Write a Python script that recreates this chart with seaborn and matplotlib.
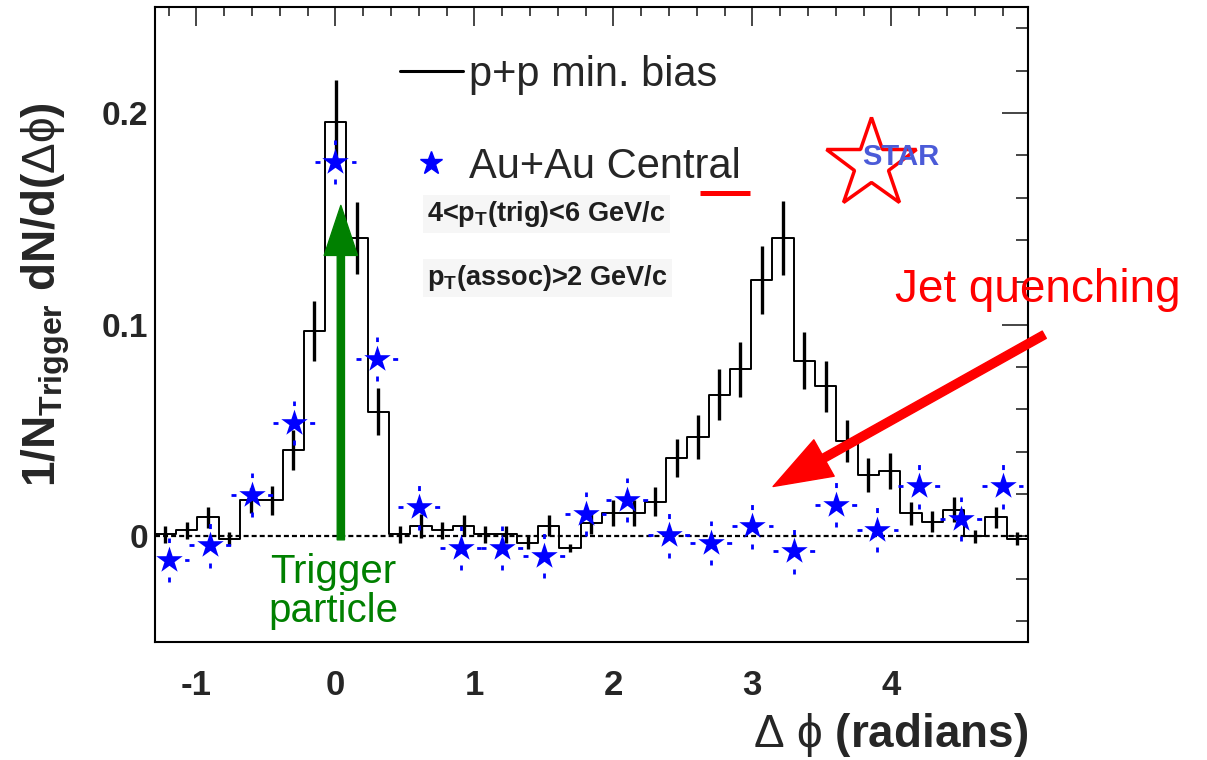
import numpy as np
import pandas as pd
import matplotlib
matplotlib.use("Agg")
import matplotlib.pyplot as plt
import seaborn as sns
from matplotlib.lines import Line2D
from matplotlib.patches import FancyArrowPatch
from matplotlib.ticker import MultipleLocator, FuncFormatter

# ---------------- data ----------------
# p+p minimum bias histogram (41 bins over 2*pi, from -1.3)
pp_dphi = [-1.223, -1.070, -0.917, -0.764, -0.610, -0.457, -0.304, -0.151,
           0.003, 0.156, 0.309, 0.462, 0.616, 0.769, 0.922, 1.075,
           1.229, 1.382, 1.535, 1.688, 1.842, 1.995, 2.148, 2.301,
           2.455, 2.608, 2.761, 2.914, 3.068, 3.221, 3.374, 3.527,
           3.681, 3.834, 3.987, 4.140, 4.294, 4.447, 4.600, 4.753, 4.907]
pp_y = [0.001, 0.003, 0.009, -0.001, 0.017, 0.017, 0.041, 0.097,
        0.196, 0.141, 0.059, 0.001, 0.005, 0.003, 0.005, 0.001,
        0.001, -0.003, 0.005, -0.0055, 0.0063, 0.011, 0.011, 0.0165,
        0.037, 0.047, 0.067, 0.079, 0.121, 0.141, 0.083, 0.071,
        0.045, 0.029, 0.031, 0.011, 0.007, 0.0126, 0.000, 0.009, -0.001]
pp_err = [0.004, 0.004, 0.005, 0.003, 0.006, 0.0067, 0.0095, 0.0142,
          0.0197, 0.017, 0.011, 0.004, 0.0055, 0.004, 0.005, 0.004,
          0.004, 0.003, 0.005, 0.002, 0.005, 0.006, 0.006, 0.007,
          0.009, 0.0103, 0.012, 0.013, 0.016, 0.0174, 0.0135, 0.012,
          0.010, 0.008, 0.0085, 0.0055, 0.005, 0.006, 0.003, 0.005, 0.003]

# Au+Au central
aa_dphi = [-1.2, -0.9, -0.6, -0.3, 0.0, 0.3, 0.6, 0.9, 1.2, 1.5, 1.8,
           2.1, 2.4, 2.7, 3.0, 3.3, 3.6, 3.9, 4.2, 4.5, 4.8]
aa_y = [-0.011, -0.0042, 0.0197, 0.0536, 0.1769, 0.0839, 0.0137, -0.0055,
        -0.0055, -0.0091, 0.0106, 0.0173, 0.0005, -0.0031, 0.0047, -0.0071,
        0.015, 0.0032, 0.0236, 0.0082, 0.0236]
aa_yerr = [0.0105] * 21
aa_xerr = [0.15] * 21

# ---------------- style ----------------
sns.set_style("white")
plt.rcParams["font.family"] = ["Liberation Sans", "DejaVu Sans"]
plt.rcParams["mathtext.fontset"] = "custom"
plt.rcParams["mathtext.rm"] = "Liberation Sans"
plt.rcParams["mathtext.bf"] = "Liberation Sans:bold"
plt.rcParams["mathtext.it"] = "Liberation Sans:italic"
plt.rcParams["mathtext.fallback"] = "stixsans"
plt.rcParams["lines.scale_dashes"] = False

fig = plt.figure(figsize=(12.07, 7.6), dpi=100)
ax = fig.add_axes([0.1282, 0.1549, 0.7235, 0.8355])

# p+p histogram
sns.histplot(x=pp_dphi, weights=pp_y, bins=41, binrange=(-1.3, 4.983),
             element="step", fill=False, color="black", linewidth=1.4, ax=ax)
ax.errorbar(pp_dphi, pp_y, yerr=pp_err, fmt="none", ecolor="black",
            elinewidth=2.4, capsize=0, zorder=3)

# zero line
ax.axhline(0, color="black", lw=1.6, ls=(0, (3.6, 2.2)), zorder=2)

# Au+Au stars with dashed error bars
ebv = ax.errorbar(aa_dphi, aa_y, yerr=aa_yerr, fmt="none", ecolor="blue",
                  elinewidth=2.0, capsize=0, zorder=4)
ebv.lines[2][0].set_linestyle((0, (3.6, 24.8)))
ebh = ax.errorbar(aa_dphi, aa_y, xerr=aa_xerr, fmt="none", ecolor="blue",
                  elinewidth=2.0, capsize=0, zorder=4)
ebh.lines[2][0].set_linestyle((0, (3.6, 22.8)))
sns.scatterplot(x=aa_dphi, y=aa_y, marker="*", s=400, color="blue",
                edgecolor="blue", linewidth=0, zorder=5, ax=ax, legend=False)

# axes
ax.set_xlim(-1.3, 4.983)
ax.set_ylim(-0.05, 0.25)
ax.xaxis.set_major_locator(MultipleLocator(1))
ax.xaxis.set_minor_locator(MultipleLocator(0.2))
ax.yaxis.set_major_locator(MultipleLocator(0.1))
ax.yaxis.set_minor_locator(MultipleLocator(0.02))
ax.xaxis.set_major_formatter(FuncFormatter(lambda v, p: f"{v:g}"))
ax.yaxis.set_major_formatter(FuncFormatter(lambda v, p: "0" if abs(v) < 1e-9 else f"{v:g}"))
ax.tick_params(axis="x", which="major", direction="in", top=True, length=13.7,
               width=1.2, labelsize=25, pad=19)
ax.tick_params(axis="x", which="minor", direction="in", top=True, length=6.5, width=1.2)
ax.tick_params(axis="y", which="major", direction="in", right=True, length=18.7,
               width=1.2, labelsize=24, pad=5)
ax.tick_params(axis="y", which="minor", direction="in", right=True, length=8.6, width=1.2)
for lab in ax.get_xticklabels() + ax.get_yticklabels():
    lab.set_fontweight("bold")
for sp in ax.spines.values():
    sp.set_linewidth(1.5)
    sp.set_color("black")

ax.set_ylabel(r"1/N$_{\mathbf{Trigger}}$ dN/d($\Delta\mathrm{\phi}$)", fontsize=33,
              fontweight="bold")
ax.yaxis.set_label_coords(-0.095, 0.547)
ax.set_xlabel(r"$\Delta$ $\mathrm{\phi}$ (radians)", fontsize=33, fontweight="bold")
ax.xaxis.set_label_coords(1.0, -0.146)
ax.xaxis.label.set_horizontalalignment("right")
ax.xaxis.label.set_verticalalignment("center")

# legend
handles = [Line2D([], [], color="black", lw=2.2),
           Line2D([], [], color="blue", marker="*", ls="none", ms=17)]
leg = ax.legend(handles, ["p+p min. bias", "Au+Au Central"], loc="upper left",
                bbox_to_anchor=(0.281, 0.925), frameon=False, fontsize=30,
                handlelength=1.5, handletextpad=0.15, labelspacing=1.25,
                borderpad=0, borderaxespad=0)

# cut text
ax.text(0.66, 0.1525, r"4<p$_\mathbf{T}$(trig)<6 GeV/c", fontsize=19.5,
        fontweight="bold", color="#1e1e1e", ha="left", va="center",
        bbox=dict(facecolor="#f6f6f6", edgecolor="none", pad=3))
ax.text(0.66, 0.122, r"p$_\mathbf{T}$(assoc)>2 GeV/c", fontsize=19.5,
        fontweight="bold", color="#1e1e1e", ha="left", va="center",
        bbox=dict(facecolor="#f6f6f6", edgecolor="none", pad=3))

# red stub
ax.plot([0.6244, 0.6817], [0.7076, 0.7076], color="red", lw=3.6,
        transform=ax.transAxes, solid_capstyle="butt")

# STAR logo
ax.plot([3.851], [0.1760], marker="*", ms=68, mfc="none", mec="red", mew=2.5,
        ls="none", zorder=6)
ax.text(4.067, 0.1792, "STAR", fontsize=21, fontweight="bold", color="#4b5bd8",
        ha="center", va="center", zorder=7)

# trigger particle arrow + text
ax.add_patch(FancyArrowPatch((0.039, -0.0016), (0.039, 0.1564),
                             arrowstyle="simple,head_length=36,head_width=24,tail_width=5.2",
                             mutation_scale=1, color="green", shrinkA=0, shrinkB=0,
                             zorder=6))
ax.text(-0.016, -0.026, "Trigger\nparticle", fontsize=29, color="green",
        ha="center", va="center", linespacing=1.05)

# jet quenching arrow + text
ax.add_patch(FancyArrowPatch((5.10, 0.0953), (3.149, 0.0236),
                             arrowstyle="simple,head_length=42,head_width=30,tail_width=6",
                             mutation_scale=1, color="red", shrinkA=0, shrinkB=0,
                             clip_on=False, zorder=6))
ax.text(4.025, 0.1165, "Jet quenching", fontsize=33, color="red",
        ha="left", va="center", clip_on=False)

fig.savefig("out.png", dpi=100)
